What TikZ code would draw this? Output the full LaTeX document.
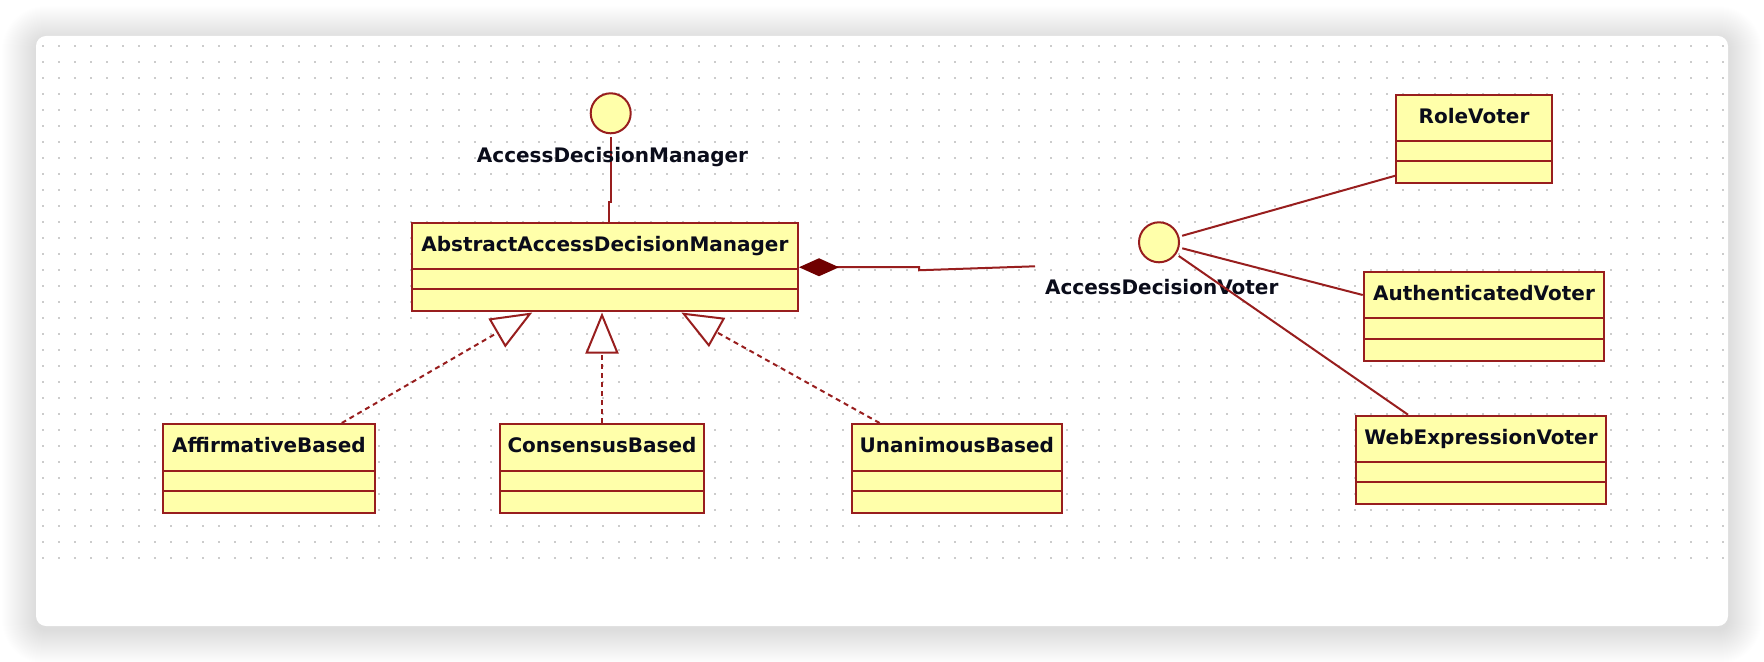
\documentclass[tikz,border=0pt]{standalone}
\usepackage{fontspec}
\newfontfamily\umlfont{DejaVu Sans}
\usetikzlibrary{arrows.meta,shapes.multipart,calc}

\definecolor{umlred}{RGB}{152,30,30}
\definecolor{umldark}{RGB}{112,0,0}
\definecolor{umlfill}{RGB}{255,255,170}
\definecolor{umltext}{RGB}{10,12,26}
\definecolor{griddot}{RGB}{204,204,204}

% header strut: 44.5px high compartment, baseline about 27px below its top
\newcommand{\hdr}{\rule[-8.6pt]{0pt}{22.25pt}}
\newcommand{\rowa}{\rule{0pt}{9pt}}
\newcommand{\rowb}{\rule{0pt}{10pt}}
\newcommand{\umlbold}{\umlfont\bfseries\fontsize{10pt}{12pt}\selectfont}

\tikzset{
  umlclass/.style={rectangle split, rectangle split parts=3, draw=umlred,
    fill=umlfill, line width=1pt, inner xsep=0pt, inner ysep=0pt,
    align=center, font=\umlbold, text=umltext, anchor=north west},
  iface/.style={circle, draw=umlred, fill=umlfill, line width=1pt,
    minimum size=20pt, inner sep=0pt, outer sep=2pt},
  ifacelabel/.style={font=\umlbold, text=umltext, inner sep=0pt, anchor=base},
  link/.style={draw=umlred, line width=1pt},
  realize/.style={link, dash pattern=on 2.5pt off 2pt,
    -{Triangle[open, fill=white, length=20.5pt, width=16.5pt]}},
  compose/.style={link,
    {Diamond[fill=umldark, color=umldark, length=20pt, width=9pt]}-},
}

\begin{document}
\begin{tikzpicture}[x=0.5pt, y=-0.5pt]
  \useasboundingbox (0,0) rectangle (1764,662);
  \fill[white] (0,0) rectangle (1764,662);

  % soft shadow under the card
  \foreach \k in {1,...,34} {
    \pgfmathsetmacro\rc{5+0.5*\k}
    \fill[black, fill opacity=0.0045, rounded corners=\rc pt]
      (36-\k,40-\k) rectangle (1728+\k,630+\k);
  }
  % card
  \fill[white, rounded corners=5pt] (36,36) rectangle (1728,626);

  % dot grid
  \foreach \i in {0,...,105} {
    \foreach \j in {0,...,32} {
      \fill[griddot] (41.8+16*\i,44.8+16*\j) rectangle ++(2.4,2.4);
    }
  }

  % classes
  \node[umlclass, text width=193.15pt] (abs) at (410.7,222)
    {\hdr AbstractAccessDecisionManager\nodepart{two}\rowa\nodepart{three}\rowb};
  \node[umlclass, text width=106pt] (aff) at (162,423)
    {\hdr AffirmativeBased\nodepart{two}\rowa\nodepart{three}\rowb};
  \node[umlclass, text width=102pt] (con) at (499,423)
    {\hdr ConsensusBased\nodepart{two}\rowa\nodepart{three}\rowb};
  \node[umlclass, text width=105.15pt] (una) at (850.7,423)
    {\hdr UnanimousBased\nodepart{two}\rowa\nodepart{three}\rowb};
  \node[umlclass, text width=78pt] (rv) at (1395,94)
    {\hdr RoleVoter\nodepart{two}\rowa\nodepart{three}\rowb};
  \node[umlclass, text width=120.3pt] (av) at (1362.7,271)
    {\hdr AuthenticatedVoter\nodepart{two}\rowa\nodepart{three}\rowb};
  \node[umlclass, text width=125pt] (wv) at (1355,414.7)
    {\hdr WebExpressionVoter\nodepart{two}\rowa\nodepart{three}\rowb};

  % interfaces
  \node[iface] (adm) at (610.7,113.3) {};
  \node[iface] (adv) at (1159,242.3) {};

  % interface realisation of AccessDecisionManager
  \draw[link] (adm) -- ($(adm |- abs.north)+(0,-20)$) -- ++(-2,0) -- ++(0,20);
  \node[ifacelabel] (admlabel) at (612.5,163) {AccessDecisionManager};
  \node[ifacelabel] (advlabel) at (1161.7,294.5) {AccessDecisionVoter};

  % composition towards the voters
  \coordinate (advend) at (1035,266.3);
  \draw[compose] (abs.east) -- ++(120,0) -- ++(0,3) -- (advend);

  % voter implementations
  \draw[link] (adv) -- ($(rv.south west)+(0,-8.7)$);
  \draw[link] (adv) -- ($(av.north west)+(0,24)$);
  \draw[link] (adv) -- ($(wv.north west)+(53,0)$);

  % subclasses of the abstract manager
  \draw[realize] ($(aff.north west)!0.84!(aff.north east)$)
    -- ($(abs.south west)!0.313!(abs.south east)$);
  \draw[realize] (con.north) -- (con.north |- abs.south);
  \draw[realize] ($(una.north west)!0.136!(una.north east)$)
    -- ($(abs.south west)!0.697!(abs.south east)$);
\end{tikzpicture}
\end{document}
